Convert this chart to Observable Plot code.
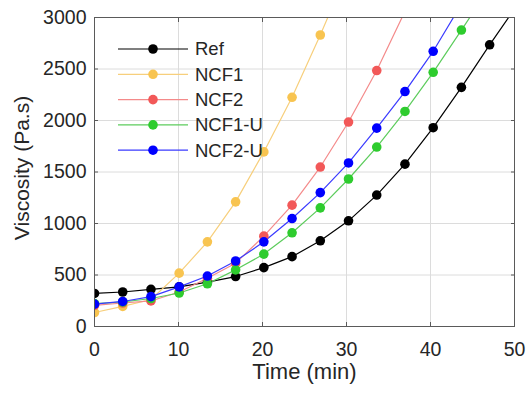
<!DOCTYPE html>
<html>
<head>
<meta charset="utf-8">
<script src="https://cdn.jsdelivr.net/npm/d3@7"></script>
<script src="https://cdn.jsdelivr.net/npm/@observablehq/plot@0.6"></script>
<style>
  html, body { margin: 0; padding: 0; background: #fff; }
  #chart { width: 528px; height: 399px; }
</style>
</head>
<body>
<div id="chart"></div>
<script>
// Sampling times (min)
const time = [0, 3.36, 6.72, 10.08, 13.44, 16.8, 20.16, 23.52, 26.88, 30.24, 33.6, 36.96, 40.32, 43.68, 47.04, 50.4];

// Viscosity (Pa.s) per formulation; the last value of each runs past the top of the axis
const ref   = [321, 335, 360, 385, 430, 485, 572, 678, 832, 1026, 1276, 1576, 1930, 2322, 2735, 3130];
const ncf1  = [136, 195, 262, 518, 822, 1210, 1695, 2225, 2830, 3470];
const ncf2  = [205, 228, 248, 335, 468, 615, 877, 1178, 1548, 1985, 2485, 3060];
const ncf1u = [222, 238, 272, 325, 415, 550, 703, 910, 1152, 1432, 1742, 2088, 2468, 2878, 3290];
const ncf2u = [217, 243, 290, 385, 490, 636, 822, 1048, 1300, 1588, 1926, 2281, 2672, 3130];

const names = ["Ref", "NCF1", "NCF2", "NCF1-U", "NCF2-U"];
const lineColors = ["#000000", "#f7cf7c", "#f48a8a", "#5ccc5c", "#3a3aff"];
const dotColors  = ["#000000", "#f8c450", "#f25858", "#2ecc2e", "#0000ff"];

const xTicks = [0, 10, 20, 30, 40, 50];
const yTicks = [0, 500, 1000, 1500, 2000, 2500, 3000];

const seriesValues = [ref, ncf1, ncf2, ncf1u, ncf2u];
const rows = seriesValues.flatMap((vals, k) =>
  vals.map((v, i) => ({ name: names[k], t: time[i], v }))
);

const font = "'Liberation Sans', Arial, Helvetica, sans-serif";
const ink = "#262626";
const plain = d3.format("d");

const chart = Plot.plot({
  width: 528,
  height: 399,
  marginLeft: 94,
  marginRight: 14,
  marginTop: 17,
  marginBottom: 73,
  style: { fontFamily: font, fontSize: "19.5px", color: ink, background: "#fff" },
  x: { domain: [0, 50] },
  y: { domain: [0, 3000] },
  marks: [
    Plot.gridX(xTicks, { stroke: "#dcdcdc", strokeOpacity: 1, strokeWidth: 1 }),
    Plot.gridY(yTicks, { stroke: "#dcdcdc", strokeOpacity: 1, strokeWidth: 1 }),
    Plot.line(rows, { x: "t", y: "v", z: "name", stroke: (d) => lineColors[names.indexOf(d.name)], strokeWidth: 1.2, clip: true }),
    Plot.dot(rows, { x: "t", y: "v", fill: (d) => dotColors[names.indexOf(d.name)], r: 4.8, stroke: "none", clip: true }),
    Plot.frame({ stroke: "#5a5a5a", strokeWidth: 1 }),
    Plot.axisX(xTicks, { anchor: "bottom", tickSize: -4, tickPadding: 20, tickFormat: plain, stroke: "#5a5a5a", label: null, fill: ink }),
    Plot.axisX(xTicks, { anchor: "top", tickSize: -4, tickFormat: () => "", stroke: "#5a5a5a", label: null }),
    Plot.axisY(yTicks, { anchor: "left", tickSize: -4, tickPadding: 12, tickFormat: plain, stroke: "#5a5a5a", label: null, fill: ink }),
    Plot.axisY(yTicks, { anchor: "right", tickSize: -4, tickFormat: () => "", stroke: "#5a5a5a", label: null }),
    Plot.text(["Time (min)"], { frameAnchor: "bottom", dy: 52, fontSize: 22, fill: ink, textAnchor: "middle" }),
    Plot.text(["Viscosity (Pa.s)"], { frameAnchor: "left", rotate: -90, dx: -72, dy: -4, fontSize: 21, fill: ink, textAnchor: "middle" })
  ]
});

// Legend (no box), top-left inside the axes
const svg = d3.select(chart);
const legend = svg.append("g")
  .attr("font-family", font)
  .attr("font-size", 18.5)
  .attr("text-anchor", "start")
  .attr("fill", ink);
names.forEach((name, k) => {
  const y = 49 + k * 25.3;
  const g = legend.append("g").attr("transform", `translate(0,${y})`);
  g.append("line").attr("x1", 118).attr("x2", 188).attr("y1", 0).attr("y2", 0)
    .attr("stroke", lineColors[k]).attr("stroke-width", 1.2);
  g.append("circle").attr("cx", 153).attr("cy", 0).attr("r", 4.8).attr("fill", dotColors[k]);
  g.append("text").attr("x", 195).attr("y", 0).attr("dy", "0.35em").text(name);
});

document.getElementById("chart").appendChild(chart);
</script>
</body>
</html>
